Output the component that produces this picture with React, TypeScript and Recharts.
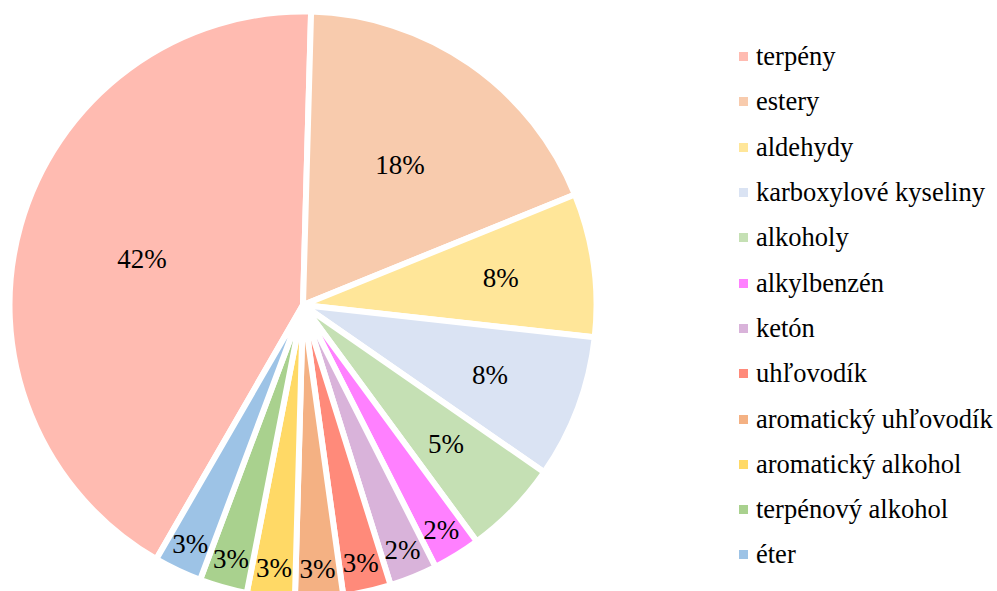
import React from "react";
import { PieChart, Pie, Cell } from "recharts";

const categories = [
  "terpény",
  "estery",
  "aldehydy",
  "karboxylové kyseliny",
  "alkoholy",
  "alkylbenzén",
  "ketón",
  "uhľovodík",
  "aromatický uhľovodík",
  "aromatický alkohol",
  "terpénový alkohol",
  "éter",
];
// number of compounds in each group
const counts = [16, 7, 3, 3, 2, 1, 1, 1, 1, 1, 1, 1];
// percentage labels as printed on the slices
const percentLabels = ["42%", "18%", "8%", "8%", "5%", "2%", "2%", "3%", "3%", "3%", "3%", "3%"];
const colors = [
  "#FFBBB1",
  "#F8CBAD",
  "#FFE699",
  "#DAE3F3",
  "#C5E0B4",
  "#FF80FF",
  "#D9B3DA",
  "#FF8A7A",
  "#F4B183",
  "#FFD966",
  "#A9D18E",
  "#9DC3E6",
];

const data = categories.map((name, i) => ({ name, value: counts[i] }));

const fontNames = ["Liberation Serif", "Tinos", "Times New Roman", "Times"];
const FONT = fontNames.map((f) => `'${f}'`).join(", ") + ", monospace";
const RAD = Math.PI / 180;

const renderLabel = (props: any) => {
  const { cx, cy, midAngle, outerRadius, percent, index } = props;
  const frac = percent >= 0.3 ? 0.57 : percent >= 0.15 ? 0.58 : percent >= 0.04 ? 0.68 : 0.9;
  const r = outerRadius * frac;
  const x = cx + r * Math.cos(-midAngle * RAD);
  const y = cy + r * Math.sin(-midAngle * RAD);
  return (
    <text
      key={`lbl-${index}`}
      x={x}
      y={y}
      textAnchor="middle"
      dominantBaseline="central"
      fill="#000"
      style={{ fontFamily: FONT, fontSize: 27 }}
    >
      {percentLabels[index]}
    </text>
  );
};

export default function App() {
  return (
    <div style={{ position: "absolute", left: 0, top: 0, width: 997, height: 591, background: "#fff" }}>
      <PieChart width={997} height={591} margin={{ top: 0, right: 0, bottom: 0, left: 0 }}>
        <Pie
          data={data}
          dataKey="value"
          nameKey="name"
          cx={303}
          cy={305}
          outerRadius={293.5}
          startAngle={240}
          endAngle={-120}
          stroke="#FFFFFF"
          strokeWidth={6}
          labelLine={false}
          label={renderLabel}
          isAnimationActive={false}
        >
          {data.map((d, i) => (
            <Cell key={d.name} fill={colors[i]} />
          ))}
        </Pie>
      </PieChart>
      <div style={{ position: "absolute", left: 739, top: 34, width: 258, fontFamily: FONT }}>
        {categories.map((c, i) => (
          <div
            key={c}
            style={{
              display: "flex",
              alignItems: "center",
              height: 45.3,
              fontSize: 26.5,
              color: "#000",
              whiteSpace: "nowrap",
            }}
          >
            <span
              style={{
                display: "inline-block",
                flex: "0 0 9px",
                width: 9,
                height: 9,
                background: colors[i],
                marginRight: 8,
              }}
            />
            <span>{c}</span>
          </div>
        ))}
      </div>
    </div>
  );
}
